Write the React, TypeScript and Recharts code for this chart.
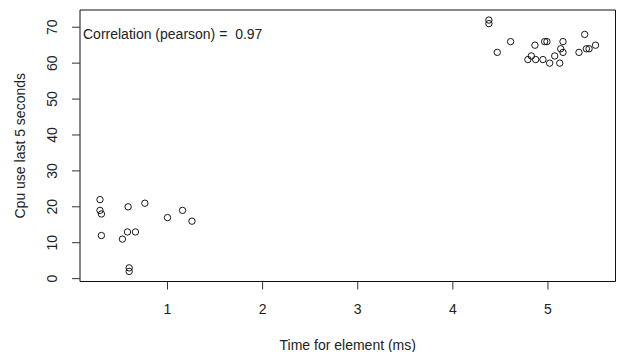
import { ReferenceArea, Scatter, ScatterChart, XAxis, YAxis } from "recharts";

// time for element (ms)
const timeMs = [
	0.29, 0.29, 0.305, 0.305, 0.586, 0.762, 0.579, 0.663, 0.526, 0.597, 0.597, 1.0, 1.158, 1.257,
	4.379, 4.379, 4.607, 4.467, 4.863, 4.965, 4.989, 5.158, 5.386, 5.5, 5.404, 5.432, 5.326, 5.134,
	5.158, 4.825, 4.789, 4.871, 4.947, 5.018, 5.071, 5.124,
];

// cpu use last 5 seconds
const cpuUse = [
	22, 19, 18, 12, 20, 21, 13, 13, 11, 3, 2, 17, 19, 16,
	72, 71, 66, 63, 65, 66, 66, 66, 68, 65, 64, 64, 63, 64,
	63, 62, 61, 61, 61, 60, 62, 60,
];

const xTicks = [1, 2, 3, 4, 5];
const yTicks = [0, 10, 20, 30, 40, 50, 60, 70];
const xDomain = [0.08, 5.71];
const yDomain = [-0.8, 74.8];

const points = timeMs.map((t, i) => ({ x: t, y: cpuUse[i] }));

const font = "'Liberation Sans', Arial, sans-serif";

const XTick = ({ x, y, payload }: any) => (
	<text x={x} y={y} dy={24.5} textAnchor="middle" fontSize={14} fontFamily={font} fill="#222">
		{payload.value}
	</text>
);

const YTick = ({ x, y, payload }: any) => (
	<text
		x={x - 14.5}
		y={y}
		transform={`rotate(-90, ${x - 14.5}, ${y})`}
		textAnchor="middle"
		fontSize={14}
		fontFamily={font}
		fill="#222"
	>
		{payload.value}
	</text>
);

const Circle = ({ cx, cy }: any) => (
	<circle cx={cx} cy={cy} r={3.2} fill="none" stroke="#000" strokeWidth={0.9} />
);

export default function App() {
	return (
		<div style={{ position: "absolute", left: 0, top: 0 }}>
			<ScatterChart width={621} height={352} margin={{ top: 10, right: 5.5, bottom: 0, left: 0 }}>
				<XAxis
					type="number"
					dataKey="x"
					domain={xDomain}
					ticks={xTicks}
					allowDataOverflow
					axisLine={false}
					tickLine={{ stroke: "#333" }}
					tickSize={8}
					tickMargin={0}
					height={70.5}
					tick={<XTick />}
					label={{
						content: ({ viewBox }: any) => (
							<text
								x={viewBox.x + viewBox.width / 2}
								y={349.5}
								textAnchor="middle"
								fontSize={14}
								fontFamily={font}
								fill="#222"
							>
								Time for element (ms)
							</text>
						),
					}}
				/>
				<YAxis
					type="number"
					dataKey="y"
					domain={yDomain}
					ticks={yTicks}
					allowDataOverflow
					axisLine={false}
					tickLine={{ stroke: "#333" }}
					tickSize={8}
					tickMargin={0}
					width={80}
					tick={<YTick />}
					label={{
						content: ({ viewBox }: any) => {
							const cy = viewBox.y + viewBox.height / 2;
							return (
								<text
									x={25}
									y={cy}
									transform={`rotate(-90, 25, ${cy})`}
									textAnchor="middle"
									fontSize={14}
									fontFamily={font}
									fill="#222"
								>
									Cpu use last 5 seconds
								</text>
							);
						},
					}}
				/>
				<ReferenceArea
					x1={xDomain[0]}
					x2={xDomain[1]}
					y1={yDomain[0]}
					y2={yDomain[1]}
					fill="none"
					stroke="#111"
					strokeWidth={1}
					label={{
						content: ({ viewBox }: any) => (
							<text
								x={viewBox.x + 3}
								y={viewBox.y + 29}
								fontSize={14}
								fontFamily={font}
								fill="#222"
								style={{ whiteSpace: "pre" }}
							>
								{"Correlation (pearson) =  0.97"}
							</text>
						),
					}}
				/>
				<Scatter data={points} shape={<Circle />} isAnimationActive={false} />
			</ScatterChart>
		</div>
	);
}
